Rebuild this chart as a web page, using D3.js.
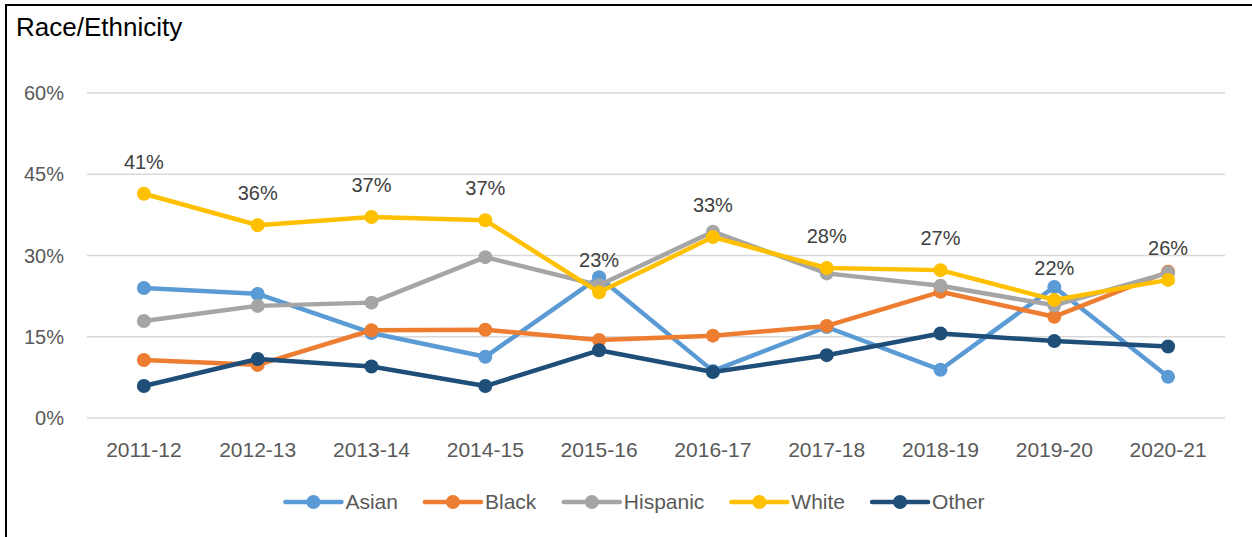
<!DOCTYPE html>
<html lang="en">
<head>
    <meta charset="UTF-8">
    <title>Race/Ethnicity</title>
    <style>
        body {
            margin: 0;
            background: #fff;
        }

        svg {
            display: block;
            font-family: "Liberation Sans", Arial, sans-serif;
        }

        .grid line {
            stroke: #d9d9d9;
            stroke-width: 1.5;
        }

        .tick-label {
            fill: #595959;
            font-size: 20px;
        }

        .data-label {
            fill: #404040;
            font-size: 20px;
        }

        .series path {
            fill: none;
            stroke-width: 4.5;
            stroke-linejoin: round;
            stroke-linecap: round;
        }
    </style>
    <script src="https://cdn.jsdelivr.net/npm/d3@7"></script>
</head>
<body>
    <div id="chart"></div>
    <script>
        // categories and values (percent)
        var years = ["2011-12", "2012-13", "2013-14", "2014-15", "2015-16", "2016-17", "2017-18", "2018-19", "2019-20", "2020-21"];
        var asian = [24.0, 22.9, 15.7, 11.3, 26.0, 8.7, 16.8, 8.9, 24.2, 7.6];
        var black = [10.7, 9.8, 16.2, 16.3, 14.4, 15.2, 17.0, 23.3, 18.7, 27.0];
        var hispanic = [17.9, 20.7, 21.3, 29.7, 24.5, 34.4, 26.7, 24.4, 20.8, 26.8];
        var white = [41.4, 35.6, 37.1, 36.5, 23.2, 33.4, 27.7, 27.3, 21.8, 25.5];
        var other = [5.9, 10.9, 9.5, 5.9, 12.5, 8.5, 11.6, 15.6, 14.2, 13.2];
        var yTicks = [0, 15, 30, 45, 60];
        var whiteLabels = ["41%", "36%", "37%", "37%", "23%", "33%", "28%", "27%", "22%", "26%"];

        var series = [
            { name: "Asian", values: asian, color: "#5b9bd5" },
            { name: "Black", values: black, color: "#ed7d31" },
            { name: "Hispanic", values: hispanic, color: "#a5a5a5" },
            { name: "White", values: white, color: "#ffc000" },
            { name: "Other", values: other, color: "#1f4e79" }
        ];

        var W = 1252, H = 537;
        var plot = { left: 87, right: 1225, top: 93, bottom: 418 };

        var svg = d3.select("#chart").append("svg")
            .attr("width", W)
            .attr("height", H);

        // frame (only left and top edges are inside the window)
        svg.append("rect")
            .attr("x", 6).attr("y", 5)
            .attr("width", W + 10).attr("height", H + 10)
            .attr("fill", "#fff")
            .attr("stroke", "#000")
            .attr("stroke-width", 2);

        svg.append("text")
            .attr("x", 16).attr("y", 36)
            .style("font-size", "26px")
            .style("fill", "#000")
            .text("Race/Ethnicity");

        var x = d3.scalePoint()
            .domain(years)
            .range([plot.left, plot.right])
            .padding(0.5);

        var y = d3.scaleLinear()
            .domain([0, 60])
            .range([plot.bottom, plot.top]);

        // gridlines
        svg.append("g").attr("class", "grid")
            .selectAll("line")
            .data(yTicks)
            .enter().append("line")
            .attr("x1", plot.left).attr("x2", plot.right)
            .attr("y1", function (d) { return y(d); })
            .attr("y2", function (d) { return y(d); });

        // y labels
        svg.append("g").selectAll("text")
            .data(yTicks)
            .enter().append("text")
            .attr("class", "tick-label")
            .attr("x", 64)
            .attr("y", function (d) { return y(d); })
            .attr("dy", "0.35em")
            .attr("text-anchor", "end")
            .text(function (d) { return d + "%"; });

        // x labels
        svg.append("g").selectAll("text")
            .data(years)
            .enter().append("text")
            .attr("class", "tick-label")
            .attr("x", function (d) { return x(d); })
            .attr("y", 450)
            .attr("dy", "0.35em")
            .attr("text-anchor", "middle")
            .style("font-size", "21px")
            .text(function (d) { return d; });

        var line = d3.line()
            .x(function (d, i) { return x(years[i]); })
            .y(function (d) { return y(d); });

        var g = svg.selectAll(".series")
            .data(series)
            .enter().append("g")
            .attr("class", "series");

        g.append("path")
            .attr("d", function (d) { return line(d.values); })
            .attr("stroke", function (d) { return d.color; });

        g.selectAll("circle")
            .data(function (d) { return d.values.map(function (v) { return { v: v, c: d.color }; }); })
            .enter().append("circle")
            .attr("cx", function (d, i) { return x(years[i]); })
            .attr("cy", function (d) { return y(d.v); })
            .attr("r", 7)
            .attr("fill", function (d) { return d.c; });

        // data labels for White
        svg.append("g").selectAll("text")
            .data(white)
            .enter().append("text")
            .attr("class", "data-label")
            .attr("x", function (d, i) { return x(years[i]); })
            .attr("y", function (d) { return y(d) - 32; })
            .attr("dy", "0.35em")
            .attr("text-anchor", "middle")
            .text(function (d, i) { return whiteLabels[i]; });

        // legend
        var legend = svg.append("g").attr("transform", "translate(0,502)");
        var items = legend.selectAll("g")
            .data(series)
            .enter().append("g");
        items.append("line")
            .attr("x1", 0).attr("x2", 56)
            .attr("stroke", function (d) { return d.color; })
            .attr("stroke-width", 4.5)
            .attr("stroke-linecap", "round");
        items.append("circle")
            .attr("cx", 28).attr("r", 7)
            .attr("fill", function (d) { return d.color; });
        items.append("text")
            .attr("class", "tick-label")
            .attr("x", 60)
            .attr("dy", "0.35em")
            .style("font-size", "21px")
            .text(function (d) { return d.name; });

        var pos = 0, offsets = [];
        items.each(function () {
            offsets.push(pos);
            pos += this.getBBox().width + 27;
        });
        var total = pos - 27, start = 635 - total / 2;
        items.attr("transform", function (d, i) { return "translate(" + (start + offsets[i]) + ",0)"; });
    </script>
</body>
</html>
